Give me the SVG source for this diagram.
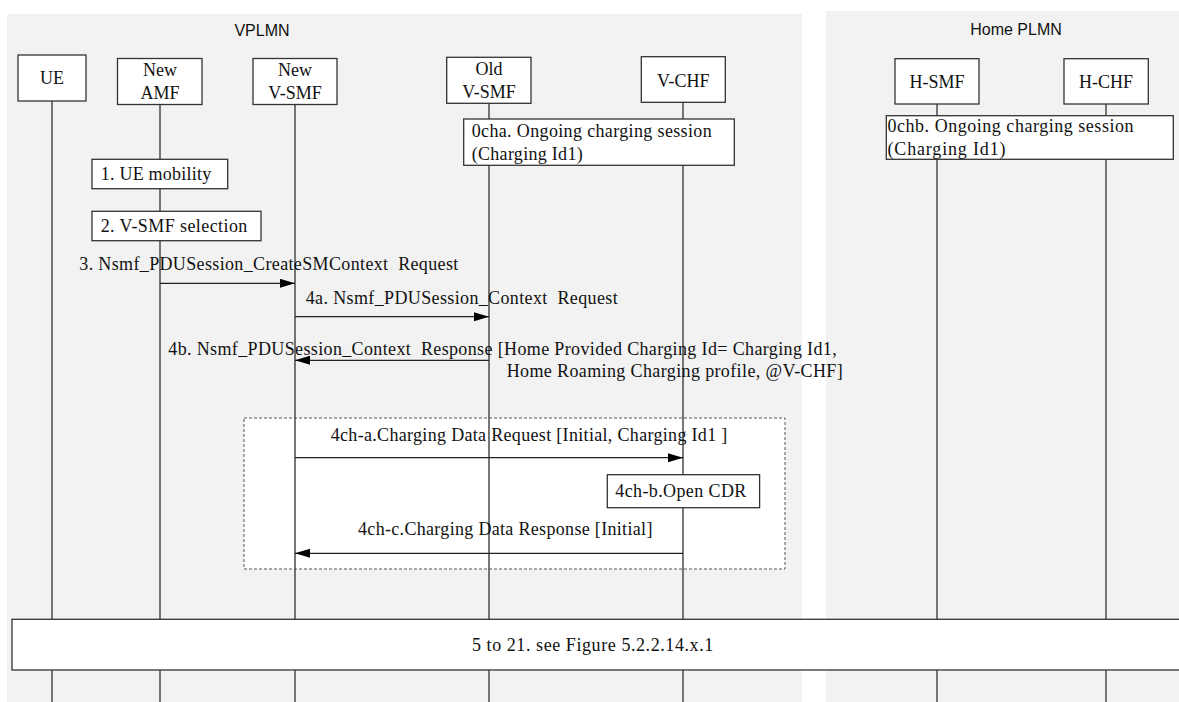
<svg xmlns="http://www.w3.org/2000/svg" width="1179" height="702" viewBox="0 0 1179 702">
<style>
.panel{fill:#f2f2f2;stroke:none}
.plmn{font-family:"Liberation Sans",Arial,sans-serif;font-size:16px;fill:#111;text-anchor:middle}
.box{fill:#fff;stroke:#333;stroke-width:1.3}
.life{stroke:#4a4a4a;stroke-width:1.5;fill:none}
.t{font-family:"Liberation Serif","Times New Roman",serif;font-size:18px;fill:#111;white-space:pre}
.c{text-anchor:middle}
.msg{stroke:#222;stroke-width:1.3;fill:none;marker-end:url(#ah)}
.dash{fill:#fff;stroke:#555;stroke-width:1;stroke-dasharray:3 2}
</style>
<defs>
<marker id="ah" markerUnits="userSpaceOnUse" markerWidth="16" markerHeight="10" refX="15" refY="4.5" orient="auto">
<path d="M0,0 L15,4.5 L0,9 Z" fill="#000"/>
</marker>
</defs>
<g id="panels">
<rect class="panel" x="7" y="14" width="795" height="690"/>
<rect class="panel" x="826" y="11" width="355" height="693"/>
<text class="plmn" x="262" y="35.5">VPLMN</text>
<text class="plmn" x="1016" y="35">Home PLMN</text>
</g>
<g id="group-4ch">
<rect class="dash" x="244" y="418" width="541" height="151"/>
</g>
<g id="lifelines">
<line class="life" x1="52" y1="101" x2="52" y2="702"/>
<line class="life" x1="160" y1="104" x2="160" y2="702"/>
<line class="life" x1="295" y1="104" x2="295" y2="702"/>
<line class="life" x1="489" y1="103" x2="489" y2="702"/>
<line class="life" x1="683" y1="102" x2="683" y2="702"/>
<line class="life" x1="937" y1="104" x2="937" y2="702"/>
<line class="life" x1="1106" y1="104" x2="1106" y2="702"/>
</g>
<g id="UE">
<rect class="box" x="18" y="55" width="68" height="46"/>
<text class="t c" x="52" y="84">UE</text>
</g>
<g id="NewAMF">
<rect class="box" x="117.5" y="58.5" width="84.5" height="46"/>
<text class="t c" x="160" y="76">New</text>
<text class="t c" x="160" y="99">AMF</text>
</g>
<g id="NewVSMF">
<rect class="box" x="253" y="58.5" width="84" height="46"/>
<text class="t c" x="295" y="76">New</text>
<text class="t c" x="295" y="99">V-SMF</text>
</g>
<g id="OldVSMF">
<rect class="box" x="446.7" y="57.3" width="84.3" height="46"/>
<text class="t c" x="489" y="75">Old</text>
<text class="t c" x="489" y="98.3">V-SMF</text>
</g>
<g id="VCHF">
<rect class="box" x="641.3" y="56.7" width="84" height="45.6"/>
<text class="t c" x="683.3" y="86.7">V-CHF</text>
</g>
<g id="HSMF">
<rect class="box" x="895" y="58.7" width="84" height="45.3"/>
<text class="t c" x="937" y="87.7">H-SMF</text>
</g>
<g id="HCHF">
<rect class="box" x="1064" y="58.7" width="84.3" height="45.3"/>
<text class="t c" x="1106" y="87.7">H-CHF</text>
</g>
<g id="note-0cha">
<rect class="box" x="463.7" y="119" width="270.6" height="46.3"/>
<text class="t" x="471.7" y="137.3" textLength="240" lengthAdjust="spacing">0cha. Ongoing charging session</text>
<text class="t" x="471.7" y="160" textLength="111" lengthAdjust="spacing">(Charging Id1)</text>
</g>
<g id="note-0chb">
<rect class="box" x="886.3" y="115.7" width="287" height="43.6"/>
<text class="t" x="887.5" y="132.3" textLength="246" lengthAdjust="spacing">0chb. Ongoing charging session</text>
<text class="t" x="887.5" y="154.5" textLength="118" lengthAdjust="spacing">(Charging Id1)</text>
</g>
<g id="note-1">
<rect class="box" x="92" y="159.3" width="135.7" height="29.4"/>
<text class="t" x="100.7" y="180" textLength="110.6" lengthAdjust="spacing">1. UE mobility</text>
</g>
<g id="note-2">
<rect class="box" x="92" y="211.3" width="169" height="29.4"/>
<text class="t" x="100.7" y="232" textLength="146.6" lengthAdjust="spacing">2. V-SMF selection</text>
</g>
<g id="note-4chb">
<rect class="box" x="607.3" y="474.7" width="152.3" height="33"/>
<text class="t" x="615.3" y="496.7" textLength="131" lengthAdjust="spacing">4ch-b.Open CDR</text>
</g>
<g id="connectors">
<line class="msg" x1="160" y1="283.3" x2="295" y2="283.3"/>
<line class="msg" x1="295" y1="316.7" x2="489" y2="316.7"/>
<line class="msg" x1="489" y1="360.3" x2="295" y2="360.3"/>
<line class="msg" x1="295" y1="457.7" x2="683" y2="457.7"/>
<line class="msg" x1="683" y1="553.3" x2="295" y2="553.3"/>
</g>
<g id="labels">
<text class="t" x="79.3" y="270" textLength="379" lengthAdjust="spacing">3. Nsmf_PDUSession_CreateSMContext  Request</text>
<text class="t" x="305.7" y="303.5" textLength="312" lengthAdjust="spacing">4a. Nsmf_PDUSession_Context  Request</text>
<text class="t" x="168.3" y="355" textLength="668.4" lengthAdjust="spacing">4b. Nsmf_PDUSession_Context  Response [Home Provided Charging Id= Charging Id1,</text>
<text class="t" x="506.7" y="376.7" textLength="336" lengthAdjust="spacing">Home Roaming Charging profile, @V-CHF]</text>
<text class="t" x="330.7" y="440.7" textLength="396.6" lengthAdjust="spacing">4ch-a.Charging Data Request [Initial, Charging Id1 ]</text>
<text class="t" x="358" y="535" textLength="294.4" lengthAdjust="spacing">4ch-c.Charging Data Response [Initial]</text>
</g>
<g id="step-5-21">
<rect class="box" x="12" y="619.3" width="1180" height="50.7"/>
<text class="t" x="471.9" y="651" textLength="241.3" lengthAdjust="spacing">5 to 21. see Figure 5.2.2.14.x.1</text>
</g>
</svg>
